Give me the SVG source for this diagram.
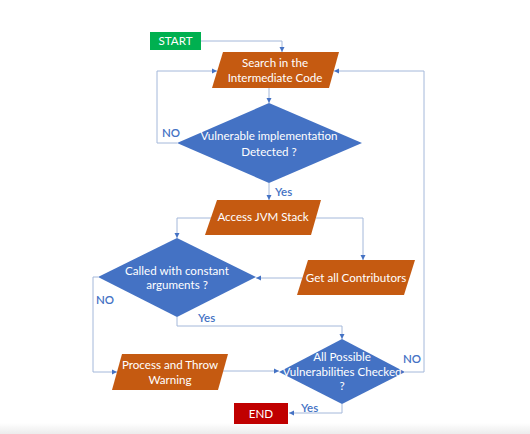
<svg xmlns="http://www.w3.org/2000/svg" width="530" height="434" viewBox="0 0 530 434">
<defs>
<marker id="ah" markerWidth="6" markerHeight="6" refX="5" refY="3" orient="auto" markerUnits="userSpaceOnUse">
<path d="M0,0.5 L5,3 L0,5.5 z" fill="#4472C4"/>
</marker>
<linearGradient id="bg" x1="0" y1="0" x2="0" y2="1">
<stop offset="0" stop-color="#ffffff"/>
<stop offset="1" stop-color="#ececec"/>
</linearGradient>
<style>
.c{fill:none;stroke:#A4B8DA;stroke-width:1;marker-end:url(#ah)}
.io{fill:#C55A11}
.dec{fill:#4472C4}
.t{font-family:Lato,"Open Sans","Liberation Sans",sans-serif;font-size:11.6px;fill:#ffffff;text-anchor:middle}
.l{font-family:Lato,"Open Sans","Liberation Sans",sans-serif;font-size:11.5px;fill:#4472C4;font-weight:600}
</style>
</defs>
<rect x="0" y="0" width="530" height="434" fill="#ffffff"/>
<rect x="0" y="423" width="530" height="11" fill="url(#bg)"/>
<g id="connectors">
<path class="c" d="M201,41 H282 V52"/>
<path class="c" d="M269,88 V103"/>
<path class="c" d="M177,143 H157 V71 H217"/>
<path class="c" d="M269,183 V200"/>
<path class="c" d="M211,218 H177 V238"/>
<path class="c" d="M316,218 H363 V260"/>
<path class="c" d="M302,278 H256"/>
<path class="c" d="M98,277 H93 V372 H117"/>
<path class="c" d="M177,317 V326 H342 V339"/>
<path class="c" d="M223,371 H279"/>
<path class="c" d="M405,372 H424 V71 H334"/>
<path class="c" d="M342,404 V413 H289"/>
</g>
<g id="start">
<rect x="150" y="32" width="51" height="18" fill="#00B050"/>
<text class="t" x="175.5" y="45">START</text>
</g>
<g id="search">
<polygon class="io" points="223,52 339,52 329,88 212,88"/>
<text class="t" x="275" y="67">Search in the</text>
<text class="t" x="275" y="82">Intermediate Code</text>
</g>
<g id="detected">
<polygon class="dec" points="269,103 362,143 269,183 177,143"/>
<text class="t" x="269" y="140">Vulnerable implementation</text>
<text class="t" x="269" y="156">Detected ?</text>
</g>
<g id="jvm">
<polygon class="io" points="217,200 321,200 311,235 205,235"/>
<text class="t" x="263" y="221">Access JVM Stack</text>
</g>
<g id="contrib">
<polygon class="io" points="308,260 415,260 404,295 297,295"/>
<text class="t" x="356" y="282">Get all Contributors</text>
</g>
<g id="constant">
<polygon class="dec" points="177,238 256,277 177,317 98,277"/>
<text class="t" x="177" y="275">Called with constant</text>
<text class="t" x="177" y="289">arguments ?</text>
</g>
<g id="warn">
<polygon class="io" points="122,354 228,354 218,390 112,390"/>
<text class="t" x="170" y="369">Process and Throw</text>
<text class="t" x="170" y="384">Warning</text>
</g>
<g id="allchecked">
<polygon class="dec" points="342,339 405,372 342,404 279,372"/>
<text class="t" x="342" y="361">All Possible</text>
<text class="t" x="342" y="376">Vulnerabilities Checked</text>
<text class="t" x="342" y="390">?</text>
</g>
<g id="end">
<rect x="234" y="403" width="54" height="21" fill="#C00000"/>
<text class="t" x="261" y="418">END</text>
</g>
<g id="labels">
<text class="l" x="162" y="137">NO</text>
<text class="l" x="275" y="196">Yes</text>
<text class="l" x="96" y="304">NO</text>
<text class="l" x="198" y="322">Yes</text>
<text class="l" x="403" y="363">NO</text>
<text class="l" x="301" y="412">Yes</text>
</g>
</svg>
